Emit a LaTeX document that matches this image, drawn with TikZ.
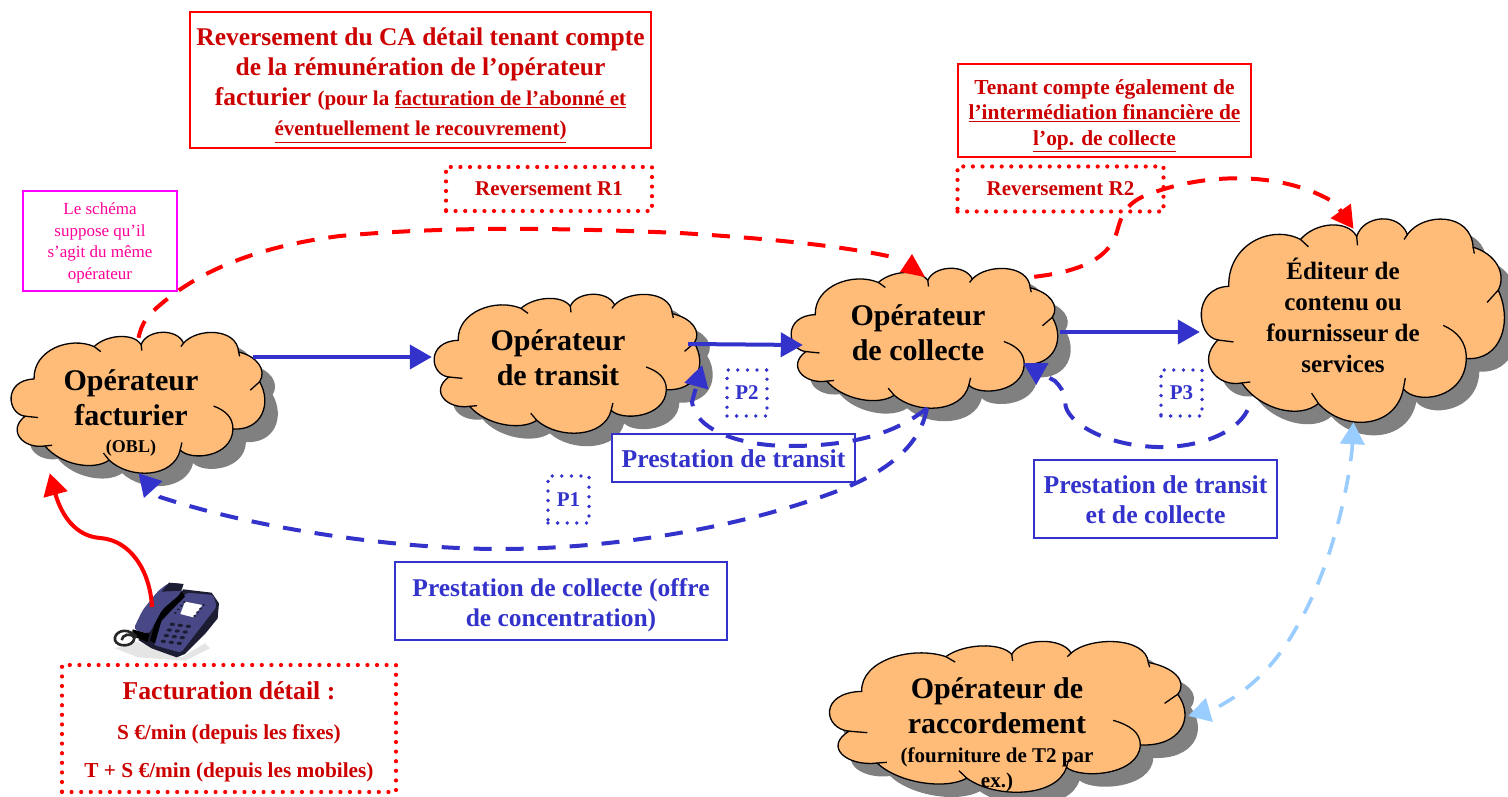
\documentclass[tikz,border=0pt]{standalone}
\usepackage{fontspec}
\setmainfont{Liberation Serif}
\usetikzlibrary{arrows.meta,calc}
\definecolor{rtxt}{RGB}{204,0,0}
\definecolor{bl}{RGB}{51,51,204}
\definecolor{cloudfill}{RGB}{255,187,120}
\definecolor{lblue}{RGB}{153,204,255}
\definecolor{mag}{RGB}{255,0,255}
\definecolor{pink}{RGB}{255,0,153}
\definecolor{shadowgrey}{RGB}{128,128,128}
\definecolor{phoneblue}{RGB}{72,72,135}
\definecolor{phonedark}{RGB}{28,28,50}
\tikzset{
  fs/.style args={#1/#2}{font=\fontsize{#1}{#2}\selectfont\bfseries},
  box/.style={inner sep=0pt,align=center},
  redbox/.style={box,draw=red,line width=1.2pt,text=rtxt},
  bluebox/.style={box,draw=bl,line width=1.2pt,text=bl},
  magbox/.style={box,draw=mag,line width=1.1pt,text=pink},
  reddots/.style={box,draw=red,line width=4.2pt,line cap=round,dash pattern=on 0pt off 9.6pt,text=rtxt},
  bluedots/.style={box,draw=bl,line width=3.8pt,line cap=round,dash pattern=on 0pt off 9.6pt,text=bl},
  cloudtext/.style={align=center,inner sep=0pt,text=black},
  hd/.style={-{Triangle[length=22pt,width=24pt]}},
  solidblue/.style={bl,line width=4pt,hd},
  dashblue/.style={bl,line width=4pt,dash pattern=on 18pt off 14pt,hd},
  dashred/.style={red,line width=4pt,dash pattern=on 18pt off 14pt},
  dashlight/.style={lblue,line width=3.6pt,dash pattern=on 18pt off 14pt,{Triangle[length=22pt,width=24pt]}-{Triangle[length=22pt,width=24pt]}},
}
\newcommand\cloudoutline{(72,142) .. controls (70,55) and (180,15) .. (252,46)
 .. controls (290,10) and (370,5) .. (393,40)
 .. controls (410,-5) and (500,-10) .. (520,36)
 .. controls (560,-10) and (680,-10) .. (685,62)
 .. controls (740,75) and (770,115) .. (748,150)
 .. controls (785,215) and (755,295) .. (668,290)
 .. controls (665,375) and (540,385) .. (510,352)
 .. controls (490,435) and (360,440) .. (297,382)
 .. controls (250,415) and (150,395) .. (105,340)
 .. controls (40,350) and (-10,295) .. (45,252)
 .. controls (-10,245) and (-20,145) .. (72,142) -- cycle}
% name, left, top, width, height
\newcommand\cloudat[5]{%
  \fill[shift={(#2+13,#3+13)},xscale=#4/770,yscale=#5/420,shadowgrey] \cloudoutline;
  \begin{scope}[shift={(#2,#3)},xscale=#4/770,yscale=#5/420]
    \draw[fill=cloudfill,line width=1.3pt] \cloudoutline;
    \draw[line width=1.3pt] (252,46) -- (272,61) (393,40) -- (395,58) (520,36) -- (512,46)
      (685,62) -- (688,75) (748,150) -- (720,175)
      (668,290) .. controls (668,255) and (645,235) .. (610,222)
      (510,352) -- (515,330) (297,382) -- (280,361) (105,340) -- (126,338) (45,252) -- (84,256);
  \end{scope}
  \node[inner sep=0pt,minimum width=#4pt,minimum height=#5pt] (#1) at (#2+#4/2,#3+#5/2) {};
}
\begin{document}
\begin{tikzpicture}[x=1pt,y=-1pt]
\path[use as bounding box,fill=white] (0,0) rectangle (1508,797);

% clouds
\cloudat{cfact}{10}{331}{257}{142}
\cloudat{ctrans}{433}{293}{269}{140}
\cloudat{ccoll}{790}{267}{270}{141}
\cloudat{cedit}{1200}{217}{307}{205}
\cloudat{craccord}{828}{640}{360}{152}

\node[cloudtext,fs=30/35] (tfact) at (131,413) {Opérateur\\facturier\\[-8pt]{\fontsize{18}{20}\selectfont (OBL)}};
\node[cloudtext,fs=30/35] (ttrans) at (558,358) {Opérateur\\de transit};
\node[cloudtext,fs=30/35] (tcoll) at (918,333) {Opérateur\\de collecte};
\node[cloudtext,fs=25/31] (tedit) at (1343,315) {Éditeur de\\contenu ou\\fournisseur de\\services};
\node[cloudtext,fs=30/35] (tracc) at (997,735)
 {Opérateur de\\raccordement\\[-6pt]{\fontsize{21}{25}\selectfont (fourniture de T2 par}\\[-10pt]{\fontsize{21}{25}\selectfont ex.)}};

% boxes
\node[redbox,fs=25.5/30.3,minimum width=461pt,minimum height=136pt] (boxca) at (420.5,80)
 {\rule{0pt}{27.5pt}Reversement du CA détail tenant compte\\de la rémunération de l’opérateur\\facturier {\fontsize{21}{30}\selectfont (pour la \underline{facturation de l’abonné et}}\\{\fontsize{21}{30}\selectfont \underline{éventuellement le recouvrement)}}};
\node[magbox,font=\fontsize{17}{21.5}\selectfont,minimum width=154pt,minimum height=100pt] (boxsch) at (100,241)
 {\rule{0pt}{16pt}Le schéma\\suppose qu’il\\s’agit du même\\opérateur};
\node[redbox,fs=21.4/25.7,minimum width=293pt,minimum height=93pt] (boxop) at (1104.5,110.5)
 {\rule{0pt}{25pt}Tenant compte également de\\\underline{l’intermédiation financière de}\\\underline{l’op. de collecte}};
\node[reddots,fs=21/22,minimum width=206pt,minimum height=44pt] (r1) at (549,189) {Reversement R1};
\node[reddots,fs=21/22,minimum width=206pt,minimum height=45pt] (r2) at (1060.5,189) {Reversement R2};
\node[bluedots,fs=21/22,minimum width=41pt,minimum height=47pt] (p1) at (568.5,499.5) {P1};
\node[bluedots,fs=21/22,minimum width=40pt,minimum height=46pt] (p2) at (747,393) {P2};
\node[bluedots,fs=21/22,minimum width=41pt,minimum height=46pt] (p3) at (1181.5,393) {P3};
\node[reddots,fs=21.3/36,minimum width=334pt,minimum height=127pt] (fact) at (229,728.5)
 {{\fontsize{25.7}{36}\selectfont \rule{0pt}{24pt}Facturation détail :}\\[4pt]S €/min (depuis les fixes)\\[2pt]T + S €/min (depuis les mobiles)};
\node[bluebox,fill=white,fs=25.7/30,minimum width=243pt,minimum height=48pt] (ptr) at (733.5,458) {\rule{0pt}{19pt}Prestation de transit};
\node[bluebox,fs=25.5/30,minimum width=332pt,minimum height=78pt] (pco) at (561,601) {\rule{0pt}{25.5pt}Prestation de collecte (offre\\de concentration)};
\node[bluebox,fs=25.7/30,minimum width=243pt,minimum height=78pt] (ptc) at (1155.5,499) {\rule{0pt}{19pt}Prestation de transit\\et de collecte};

% phone
\begin{scope}[shift={(105,570)},x=0.3333pt,y=-0.3333pt]
  \fill[black!10] (30,235) -- (95,215) -- (230,262) -- (300,220) -- (315,235) -- (240,272) -- (100,262) -- cycle;
  \fill[phonedark] (100,210) -- (140,235) -- (215,262) -- (240,252) -- (300,192) -- (338,145) -- (342,100) -- (320,68) -- (235,58) -- cycle;
  \fill[phoneblue,rounded corners=3pt] (245,68) -- (325,75) -- (335,110) -- (228,248) -- (145,225) -- (165,160) -- cycle;
  \fill[white] (240,95) -- (292,105) -- (265,142) -- (226,132) -- cycle;
  \foreach \a in {0,1,2} \foreach \b in {0,1,2,3}
    \fill[phonedark] (202+\a*24-\b*9,163+\a*3+\b*17) ellipse[x radius=8,y radius=5];
  \foreach \b in {0,1,2,3} {
    \fill[phonedark] (238-\b*9,96+\b*11) ellipse[x radius=5,y radius=3];
    \fill[phonedark] (296-\b*9,105+\b*11) ellipse[x radius=5,y radius=3];
  }
  \fill[black] (228,62) -- (160,125) -- (135,212) -- (150,220) -- (170,150) -- (240,80) -- cycle;
  \fill[phoneblue,rounded corners=4pt] (192,38) -- (236,42) -- (226,72) -- (172,118) -- (132,192) -- (85,178) -- (113,120) -- (160,62) -- cycle;
  \fill[phonedark] (192,38) -- (236,42) -- (228,62) -- (170,65) -- cycle;
  \fill[black] (83,178) -- (133,192) -- (128,216) -- (80,198) -- cycle;
  \draw[black!85,line width=2.6pt] (95,200) .. controls (60,165) and (25,190) .. (30,210) .. controls (35,232) and (85,232) .. (88,205) .. controls (80,185) and (50,195) .. (50,210);
\end{scope}
\coordinate (handset) at (152,607);

% connectors
\draw[solidblue] ([xshift=-14pt,yshift=45pt]cfact.east) -- ([xshift=-1pt,yshift=6pt]ctrans.west);
\draw[solidblue] ([xshift=-14pt,yshift=19pt]ctrans.east) -- ([xshift=13pt,yshift=18pt]ctrans.east -| ccoll.west);
\draw[solidblue] ([yshift=5.5pt]ccoll.east) -- ([yshift=5.5pt]ccoll.east -| cedit.west);

\draw[dashblue] ([xshift=2pt]ccoll.south) .. controls (920,445) and (890,470) .. (840,490) .. controls (750,525) and (620,549) .. (500,549) .. controls (400,549) and (260,530) .. (160,497) -- (cfact.south);
\draw[dashblue] ([xshift=2pt]ccoll.south) .. controls (900,430) and (860,446) .. (790,446) .. controls (740,446) and (695,430) .. (692,402) -- ([yshift=-2pt]ctrans.east);
\draw[dashblue] ([xshift=-106pt,yshift=12pt]cedit.south) .. controls (1235,435) and (1195,448) .. (1157,447) .. controls (1095,445) and (1060,415) .. (1066,400) .. controls (1064,392) and (1060,386) .. (1055,381) -- ([xshift=-37pt,yshift=45pt]ccoll.south east);

\draw[dashred] ([yshift=-7pt]cfact.north) .. controls (142,322) and (148,315) .. (160,305) .. controls (200,270) and (260,246) .. (340,236) .. controls (450,226) and (560,228) .. (680,233) .. controls (760,238) and (840,245) .. (897,258);
\fill[red] (912,254) -- (900,272) -- (925,277) -- cycle;
\draw[dashred,hd] ([xshift=-26pt,yshift=-10pt]ccoll.north east) .. controls (1075,272) and (1100,262) .. (1112,243) .. controls (1122,228) and (1115,205) .. (1152,193) .. controls (1210,172) and (1285,172) .. (1335,203) -- ([yshift=-12pt]cedit.north);
\draw[dashlight] (cedit.south) -- (1352,450) .. controls (1345,510) and (1325,580) .. (1295,630) .. controls (1275,665) and (1250,690) .. (1216,708) -- (craccord.east);
\draw[red,line width=4pt,hd] (handset) .. controls (150,570) and (130,540) .. (100,538) .. controls (75,536) and (62,515) .. (56,496) -- ([xshift=40pt]cfact.south west);
\end{tikzpicture}
\end{document}
